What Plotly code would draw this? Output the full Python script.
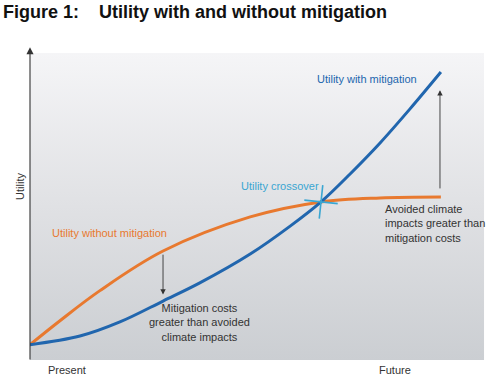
import plotly.graph_objects as go

# Time axis (0 = Present, ~100 = Future), utility in arbitrary units (0-100)
t_without = [0, 6.6, 15.4, 29.3, 48.5, 64.1, 77.1, 90.5]
u_without = [5, 12.8, 22.6, 35.5, 46.6, 51.5, 52.8, 53.1]

t_with = [0, 11, 19.8, 29.3, 37.4, 48.5, 57.3, 64.1, 70.5, 77.1, 83.7, 90.5]
u_with = [5, 7.8, 12.4, 19.2, 25.1, 34.5, 43.6, 51.5, 60.6, 70.7, 81.8, 93.8]

crossover_t = [64.1]
crossover_u = [51.5]

x_labels = ["Present", "Future"]
x_label_pos = [0.079, 0.7816]   # paper fraction of the axis

BLUE = "#2166ae"
ORANGE = "#e8792f"
CYAN = "#3aa6d2"
TEXT = "#333333"
FONT = "Liberation Sans, Arial, sans-serif"

fig = go.Figure()

# gradient background panel
fig.add_trace(go.Scatter(
    x=[0, 100, 100, 0, 0], y=[0, 0, 100, 100, 0], mode="lines",
    line=dict(width=0), fill="toself",
    fillgradient=dict(type="vertical",
                      colorscale=[[0, "#cbced2"], [0.5, "#e0e1e4"], [1, "#f5f5f7"]]),
    hoverinfo="skip", showlegend=False))

fig.add_trace(go.Scatter(x=t_without, y=u_without, mode="lines",
                         line=dict(color=ORANGE, width=3, shape="spline", smoothing=1),
                         showlegend=False))
fig.add_trace(go.Scatter(x=t_with, y=u_with, mode="lines",
                         line=dict(color=BLUE, width=3, shape="spline", smoothing=1),
                         showlegend=False))
fig.add_trace(go.Scatter(x=crossover_t, y=crossover_u, mode="markers",
                         marker=dict(symbol="cross-thin", size=24, angle=6,
                                     line=dict(color=CYAN, width=1.6)),
                         showlegend=False))

ann = []
# axes arrows
ann.append(dict(x=0, y=101.9, ax=0, ay=-0.3, xref="x", yref="y", axref="x", ayref="y",
                showarrow=True, arrowhead=2, arrowsize=1.3, arrowwidth=1.1, arrowcolor="#333",
                text=""))
ann.append(dict(x=102.6, y=-0.2, ax=-0.2, ay=-0.2, xref="x", yref="y", axref="x", ayref="y",
                showarrow=True, arrowhead=2, arrowsize=1.3, arrowwidth=1.1, arrowcolor="#333",
                text=""))
# difference arrows
ann.append(dict(x=29.3, y=21.3, ax=29.3, ay=34.8, xref="x", yref="y", axref="x", ayref="y",
                showarrow=True, arrowhead=2, arrowsize=1.2, arrowwidth=0.9, arrowcolor="#333",
                text=""))
ann.append(dict(x=90.3, y=87.9, ax=90.3, ay=55.4, xref="x", yref="y", axref="x", ayref="y",
                showarrow=True, arrowhead=2, arrowsize=1.2, arrowwidth=0.9, arrowcolor="#333",
                text=""))

def label(x, y, text, color=TEXT, size=11, align="center", xanchor="center", angle=0,
          ref="data"):
    xr, yr = ("x", "y") if ref == "data" else ("paper", "paper")
    ann.append(dict(x=x, y=y, xref=xr, yref=yr, text=text, showarrow=False,
                    font=dict(family=FONT, size=size, color=color), align=align,
                    xanchor=xanchor, yanchor="middle", textangle=angle))

label(74.2, 91.5, "Utility with mitigation", color=BLUE)
label(55.0, 56.7, "Utility crossover", color=CYAN)
label(17.6, 41.4, "Utility without mitigation", color=ORANGE)
label(37.4, 12.1, "Mitigation costs<br>greater than avoided<br>climate impacts")
label(77.75, 44.6, "Avoided climate<br>impacts greater than<br>mitigation costs",
      align="left", xanchor="left")
label(-0.0214, 0.553, "Utility", angle=-90, ref="paper")
for p, s in zip(x_label_pos, x_labels):
    label(p, -0.032, s, ref="paper")

fig.update_layout(
    width=500, height=381,
    margin=dict(l=30, r=3, t=47, b=21),
    paper_bgcolor="white", plot_bgcolor="white",
    xaxis=dict(range=[0, 102.86], visible=False, fixedrange=True),
    yaxis=dict(range=[0, 101.95], visible=False, fixedrange=True),
    title=dict(text="<b>Figure 1:\u00a0\u00a0\u00a0 Utility with and without mitigation</b>",
               x=0.006, xanchor="left", y=0.968, yanchor="middle",
               font=dict(family=FONT, size=18, color="#111")),
    annotations=ann,
    showlegend=False,
)

fig.write_html("out.html", config={"displayModeBar": False},
               post_script="document.body.style.margin='0px';")
